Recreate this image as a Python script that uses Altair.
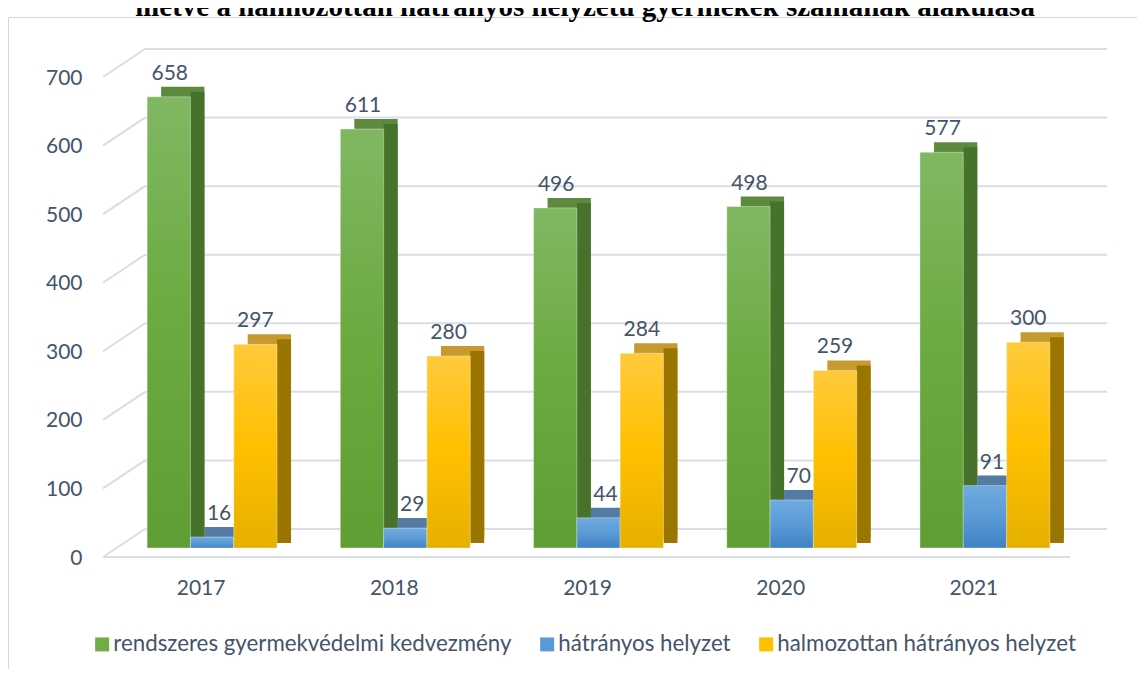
import altair as alt
import pandas as pd

# ---- data ----
years = ["2017", "2018", "2019", "2020", "2021"]
series = ["rendszeres gyermekvédelmi kedvezmény", "hátrányos helyzet", "halmozottan hátrányos helyzet"]
rgyk = [658, 611, 496, 498, 577]
hh = [16, 29, 44, 70, 91]
hhh = [297, 280, 284, 259, 300]
y_ticks = [0, 100, 200, 300, 400, 500, 600, 700]
title_text = "illetve a halmozottan hátrányos helyzetű gyermekek számának alakulása"

rows = []
for name, vals in zip(series, [rgyk, hh, hhh]):
    for yr, v in zip(years, vals):
        rows.append({"year": yr, "series": name, "value": v})
df = pd.DataFrame(rows)
ticks_df = pd.DataFrame({"value": y_ticks})

# ---- style ----
FONT = "Lato"
TXT = "#44546a"
GRID = "#d9dde4"
BW = 43.3          # bar (front face) width
DX, DY = 14, 10    # depth of the pseudo-3D faces
front_stops = {
    series[0]: ["#80b862", "#6aaa3f", "#5f9e33"],
    series[1]: ["#70aae0", "#5b9bd5", "#3f82c4"],
    series[2]: ["#ffca3c", "#ffc000", "#e6b000"],
}
solid = ["#70ad47", "#5b9bd5", "#ffc000"]
top_col = {series[0]: "#5e8a40", series[1]: "#537ba3", series[2]: "#c69a2e"}
side_col = {series[0]: "#47722c", series[1]: "#3d6a99", series[2]: "#9a7600"}
label_dx = {series[0]: 1, series[1]: 7, series[2]: 0}
shift = {s: (i - 1) * BW for i, s in enumerate(series)}

xscale = alt.Scale(domain=years, paddingInner=0.327, paddingOuter=0.228)
yscale = alt.Scale(domain=[0, 700], nice=False)
xaxis = alt.Axis(domain=False, ticks=False, grid=False, labelAngle=0, labelPadding=29,
                 labelOffset=-11, labelFont=FONT, labelFontSize=21, labelColor=TXT, title=None)
yaxis = alt.Axis(values=y_ticks, domain=False, ticks=False, grid=False, labelPadding=21,
                 labelOffset=10, labelFont=FONT, labelFontSize=21, labelColor=TXT, title=None)

X = alt.X("year:N", scale=xscale, axis=xaxis)
Y = alt.Y("value:Q", scale=yscale, axis=yaxis)

one = pd.DataFrame({"a": [0]})
border = alt.Chart(one).mark_rect(filled=False, stroke="#d3d7dc", strokeWidth=1).encode(
    x=alt.value(-94.5), x2=alt.value(1100), y=alt.value(-50.5), y2=alt.value(700))
title = alt.Chart(one).mark_text(font="Liberation Serif", fontWeight="bold", fontSize=29,
                                 color="black", baseline="alphabetic", align="center").encode(
    x=alt.value(482), y=alt.value(-52), text=alt.value(title_text))

back_grid = alt.Chart(ticks_df).mark_rule(color=GRID, strokeWidth=2, yOffset=-19).encode(
    x=alt.value(42), x2=alt.value(1004), y=Y)
diag = alt.Chart(ticks_df).mark_rule(color=GRID, strokeWidth=2, yOffset=9, y2Offset=-19).encode(
    x=alt.value(0), x2=alt.value(42), y=Y, y2=alt.Y2("value"))
floor = alt.Chart(ticks_df).transform_filter("datum.value == 0").mark_rule(
    color=GRID, strokeWidth=2, yOffset=9).encode(x=alt.value(0), x2=alt.value(967), y=Y)

base = alt.Chart(df).encode(x=X, y=Y)

layers = [border, title, back_grid, diag, floor]
# top faces (offset rectangle behind the front face)
for s in series:
    layers.append(base.transform_filter(alt.datum.series == s).mark_bar(
        color=top_col[s], width=BW, xOffset=shift[s] + DX, yOffset=-DY, y2Offset=-DY))
# side faces
for s in series:
    layers.append(base.transform_filter(alt.datum.series == s).mark_bar(
        color=side_col[s], width=DX, xOffset=shift[s] + BW / 2 + DX / 2, yOffset=-DY / 2, y2Offset=-DY))

# legend carrier (no drawn marks)
legend_layer = base.mark_bar(width=BW).encode(
    color=alt.Color("series:N", scale=alt.Scale(domain=series, range=solid),
                    legend=alt.Legend(orient="none", legendX=-12, legendY=565, direction="horizontal",
                                      title=None, symbolType="square", symbolSize=196,
                                      symbolStrokeWidth=0, symbolOpacity=1, labelFont=FONT,
                                      labelFontSize=22.3, labelColor=TXT, labelOffset=0,
                                      columnPadding=24, padding=0, labelLimit=600)),
).transform_filter("false")
layers.append(legend_layer)

for s in series:
    st = front_stops[s]
    grad = alt.Gradient(gradient="linear", x1=0, x2=0, y1=0, y2=1,
                        stops=[alt.GradientStop(color=st[0], offset=0),
                               alt.GradientStop(color=st[1], offset=0.5),
                               alt.GradientStop(color=st[2], offset=1)])
    layers.append(base.transform_filter(alt.datum.series == s).mark_bar(
        fill=grad, width=BW, xOffset=shift[s], stroke="#ffffff", strokeOpacity=0.35, strokeWidth=1))

for s in series:
    layers.append(base.transform_filter(alt.datum.series == s).mark_text(
        font=FONT, fontSize=21, color=TXT, baseline="alphabetic", dy=-17,
        dx=shift[s] + label_dx[s]).encode(text=alt.Text("value:Q")))

chart = alt.layer(*layers).properties(
    width=991, height=480,
    autosize=alt.AutoSizeParams(type="none"),
    padding={"left": 95, "top": 60, "right": 43, "bottom": 121},
).configure_view(stroke=None)

chart.save("out.html", embed_options={"renderer": "svg", "actions": False})
